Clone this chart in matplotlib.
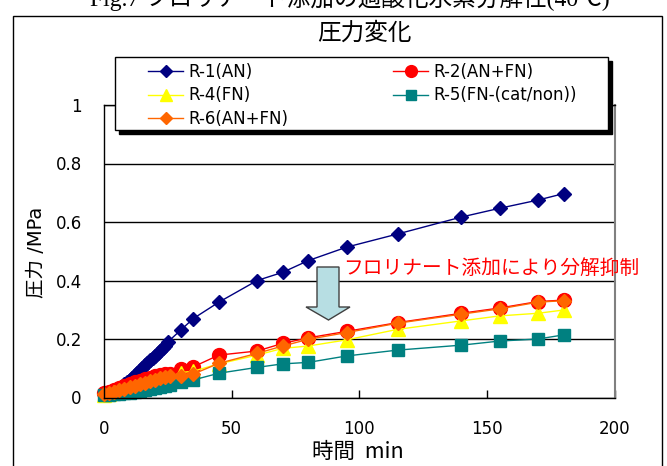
import matplotlib
matplotlib.use("Agg")
import matplotlib.pyplot as plt
from matplotlib.patches import Rectangle, Polygon

plt.rcParams['font.family'] = ['DejaVu Sans', 'Noto Sans CJK JP']

# ---- data: pressure (MPa) vs time (min) ----
time_r1 = [0, 5, 6, 7, 8, 9, 10, 11, 12, 13, 14, 15, 16, 17, 18, 19, 20, 21, 22,
           23, 24, 25, 30, 35, 45, 60, 70, 80, 95, 115, 140, 155, 170, 180]
r1 = [0.015, 0.025, 0.030, 0.037, 0.045, 0.053, 0.060, 0.068, 0.077, 0.085, 0.093,
      0.100, 0.110, 0.118, 0.127, 0.135, 0.143, 0.152, 0.160, 0.168, 0.177, 0.190,
      0.230, 0.270, 0.326, 0.400, 0.428, 0.468, 0.514, 0.559, 0.617, 0.647, 0.675, 0.697]

time_mix = [0, 2, 4, 6, 8, 10, 12, 14, 16, 18, 20, 22, 24, 26, 30, 35, 45, 60, 70,
            80, 95, 115, 140, 155, 170, 180]
r2 = [0.015, 0.018, 0.025, 0.032, 0.040, 0.047, 0.053, 0.058, 0.063, 0.068, 0.073,
      0.077, 0.080, 0.082, 0.098, 0.105, 0.145, 0.159, 0.185, 0.204, 0.226, 0.256,
      0.288, 0.306, 0.328, 0.333]
r4 = [0.010, 0.013, 0.018, 0.022, 0.027, 0.032, 0.037, 0.042, 0.047, 0.052, 0.057,
      0.062, 0.066, 0.070, 0.085, 0.090, 0.115, 0.145, 0.168, 0.176, 0.197, 0.233,
      0.262, 0.279, 0.288, 0.299]
r5 = [0.010, 0.010, 0.012, 0.013, 0.015, 0.017, 0.020, 0.022, 0.025, 0.028, 0.032,
      0.036, 0.040, 0.043, 0.054, 0.060, 0.083, 0.103, 0.115, 0.120, 0.142, 0.162,
      0.179, 0.193, 0.200, 0.214]
r6 = [0.012, 0.015, 0.020, 0.025, 0.030, 0.035, 0.040, 0.045, 0.050, 0.055, 0.060,
      0.065, 0.070, 0.073, 0.075, 0.080, 0.117, 0.151, 0.176, 0.199, 0.222, 0.254,
      0.285, 0.303, 0.326, 0.331]

labels = ['R-1(AN)', 'R-2(AN+FN)', 'R-4(FN)', 'R-5(FN-(cat/non))', 'R-6(AN+FN)']
x_ticks = [0, 50, 100, 150, 200]
y_ticks = [0, 0.2, 0.4, 0.6, 0.8, 1.0]
y_tick_labels = ['0', '0.2', '0.4', '0.6', '0.8', '1']

W, H = 667, 466
fig = plt.figure(figsize=(W / 100, H / 100), dpi=100)

def fx(px):
    return px / W

def fy(py):
    return 1 - py / H

ax = fig.add_axes([fx(104), fy(397.5), fx(614.6) - fx(104), fy(105) - fy(397.5)])

styles = [
    dict(color='#000080', marker='D', ms=7.5, mec='#000080', mfc='#000080'),
    dict(color='#FF0000', marker='o', ms=10, mec='#FF0000', mfc='#FF0000'),
    dict(color='#FFFF00', marker='^', ms=10, mec='#FFFF00', mfc='#FFFF00'),
    dict(color='#008080', marker='s', ms=8.5, mec='#008080', mfc='#008080'),
    dict(color='#FF6600', marker='D', ms=7.5, mec='#FF6600', mfc='#FF6600'),
]
series = [(time_r1, r1), (time_mix, r2), (time_mix, r4), (time_mix, r5), (time_mix, r6)]

handles = []
for (t, v), st, lab in zip(series, styles, labels):
    ln, = ax.plot(t, v, lw=1.0, label=lab, clip_on=False, **st)
    handles.append(ln)

ax.set_xlim(0, 200)
ax.set_ylim(0, 1)
ax.set_xticks(x_ticks)
ax.set_xticklabels([str(v) for v in x_ticks])
ax.set_yticks(y_ticks)
ax.set_yticklabels(y_tick_labels)
ax.tick_params(axis='x', direction='in', length=6, width=1, pad=16, labelsize=12)
ax.tick_params(axis='y', length=0, pad=16, labelsize=12)
ax.grid(axis='y', color='black', lw=1)
ax.set_axisbelow(True)
for side in ['left', 'bottom', 'top']:
    ax.spines[side].set_color('black')
    ax.spines[side].set_linewidth(1)
ax.spines['right'].set_color('#808080')
ax.spines['right'].set_linewidth(1.5)

# axis titles
fig.text(fx(37), fy(252), '圧力 /MPa', rotation=90, ha='center', va='center', fontsize=14)
fig.text(fx(358), fy(452), '時間  min', ha='center', va='center', fontsize=15.5,
         family=['Noto Sans CJK JP'])

# chart frame and heading
fig.patches.append(Rectangle((fx(13), -0.05), fx(662) - fx(13), fy(16) + 0.05,
                             transform=fig.transFigure, fill=False, ec='black', lw=1))
fig.text(fx(350), fy(-2), 'Fig.7 フロリナート添加の過酸化水素分解性(40℃)',
         ha='center', va='center', fontsize=17,
         family=['Liberation Serif', 'Noto Sans CJK JP'])
fig.text(fx(364), fy(33), '圧力変化', ha='center', va='center', fontsize=17,
         family=['Noto Sans CJK JP'])

# legend box with shadow
lx0, ly0, lx1, ly1 = 115, 57, 608, 130
fig.patches.append(Rectangle((fx(lx0 + 4), fy(ly1 + 4)), fx(lx1) - fx(lx0), fy(ly0) - fy(ly1),
                             transform=fig.transFigure, fc='black', ec='black', lw=1, zorder=5))
fig.patches.append(Rectangle((fx(lx0), fy(ly1)), fx(lx1) - fx(lx0), fy(ly0) - fy(ly1),
                             transform=fig.transFigure, fc='white', ec='black', lw=1, zorder=6))
leg_kw = dict(frameon=False, loc='upper left', borderpad=0, borderaxespad=0,
              handlelength=2.1, handletextpad=0.35, labelspacing=0.33, fontsize=12,
              markerscale=0.85)
order1 = [0, 2, 4]
order2 = [1, 3]
leg1 = fig.legend([handles[i] for i in order1], [labels[i] for i in order1],
                  bbox_to_anchor=(fx(148), fy(63)), **leg_kw)
leg2 = fig.legend([handles[i] for i in order2], [labels[i] for i in order2],
                  bbox_to_anchor=(fx(393), fy(63)), **leg_kw)
leg1.set_zorder(7)
leg2.set_zorder(7)

# annotation with block arrow
fig.text(fx(343), fy(268), 'フロリナート添加により分解抑制', color='#FF0000',
         fontsize=14.2, ha='left', va='center', family=['Noto Sans CJK JP'])
arrow_px = [(317, 267), (339, 267), (339, 307), (350, 307), (328.5, 320),
            (306, 307), (317, 307)]
fig.patches.append(Polygon([(fx(x), fy(y)) for x, y in arrow_px], closed=True,
                           transform=fig.transFigure, fc='#B7DEE3', ec='#404040', lw=1,
                           zorder=4))

fig.savefig('out.png', dpi=100)
